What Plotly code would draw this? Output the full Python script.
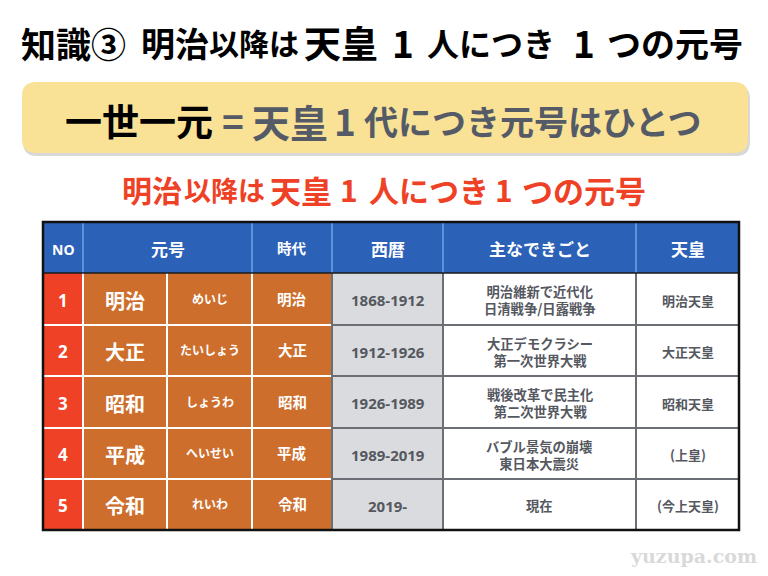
import plotly.graph_objects as go

# table contents
numbers = ["1", "2", "3", "4", "5"]
eras = ["明治", "大正", "昭和", "平成", "令和"]
readings = ["めいじ", "たいしょう", "しょうわ", "へいせい", "れいわ"]
years = ["1868-1912", "1912-1926", "1926-1989", "1989-2019", "2019-"]
events = ["明治維新で近代化<br>日清戦争/日露戦争", "大正デモクラシー<br>第一次世界大戦", "戦後改革で民主化<br>第二次世界大戦",
          "バブル景気の崩壊<br>東日本大震災", "現在"]
emperors = ["明治天皇", "大正天皇", "昭和天皇", "(上皇)", "(今上天皇)"]
headers = ["NO", "元号", "時代", "西暦", "主なできごと", "天皇"]

# slide text pieces: text, left edge, size
title_parts = [("知識③", 21, 35), ("明治", 141, 34), ("以降は", 209, 30), ("天皇", 304, 37),
               ("1", 392, 37), ("人につき", 427, 32), ("1", 573, 37), ("つの元号", 607, 34)]
banner_parts = [("一世一元", 65, 37, "#000000"), ("=", 222, 37, "#555b66"), ("天皇", 252, 38, "#555b66"),
                ("1", 334, 37, "#555b66"), ("代につき元号はひとつ", 364, 34, "#555b66")]
red_parts = [("明治", 122, 30), ("以降は", 184, 27), ("天皇", 270, 31),
             ("1", 340, 30), ("人につき", 369, 30), ("1", 495, 30), ("つの元号", 522, 31)]

# table grid in pixels
xs = [43, 83, 167, 252, 332, 443, 636, 739]
ys = [273, 325, 376, 428, 479, 530]
top = 222

BLUE = "#2b62b8"
ORANGE = "#cd6e2c"
RED = "#ee4125"
GREY = "#d9dbde"
TXT = "#55585f"
LINE = "#6c6e75"
FONT = "Noto Sans CJK JP"

fig = go.Figure()


def rect(x0, y0, x1, y1, fill, line=None, width=0):
    fig.add_shape(type="rect", x0=x0, y0=y0, x1=x1, y1=y1, fillcolor=fill,
                  line=dict(color=line, width=width) if line else dict(width=0), layer="below")


def text(x, y, s, size, color, anchor="center", bold=True, family=FONT):
    if bold:
        s = "<b>" + s.replace("<br>", "</b><br><b>") + "</b>"
    fig.add_annotation(x=x, y=y, text=s, showarrow=False, xanchor=anchor, yanchor="middle",
                       font=dict(family=family, size=size, color=color), align="center", borderpad=0, borderwidth=0)


def rounded(x0, y0, x1, y1, r, fill):
    path = (f"M {x0+r} {y0} L {x1-r} {y0} Q {x1} {y0} {x1} {y0+r} L {x1} {y1-r} Q {x1} {y1} {x1-r} {y1} "
            f"L {x0+r} {y1} Q {x0} {y1} {x0} {y1-r} L {x0} {y0+r} Q {x0} {y0} {x0+r} {y0} Z")
    fig.add_shape(type="path", path=path, fillcolor=fill, line=dict(width=0), layer="below")


# title
for s, x, size in title_parts:
    text(x, 42, s, size, "#000000", "left")

# banner with soft shadow
rounded(23, 85, 750, 156, 14, "#d8d8d8")
rounded(22, 82, 748, 153, 14, "#f9e196")
for s, x, size, color in banner_parts:
    text(x, 120, s, size, color, "left")

for s, x, size in red_parts:
    text(x, 189, s, size, RED, "left")

# header
rect(xs[0], top, xs[-1], ys[0], BLUE)
for x in [xs[1], xs[3], xs[4], xs[5], xs[6]]:
    fig.add_shape(type="line", x0=x, x1=x, y0=top, y1=ys[0], line=dict(color="#6da3ea", width=1.5))
header_cx = [(xs[0] + xs[1]) / 2, (xs[1] + xs[3]) / 2, (xs[3] + xs[4]) / 2, (xs[4] + xs[5]) / 2,
             (xs[5] + xs[6]) / 2, (xs[6] + xs[7]) / 2]
header_size = [14, 17, 14.5, 17, 17, 17]
header_y = [249, 248, 247, 248, 248, 248]
for h, cx, size, hy in zip(headers, header_cx, header_size, header_y):
    text(cx, hy, h, size, "white", family="Noto Sans CJK JP" if h != "NO" else "Open Sans")

# column fills
rect(xs[0], ys[0], xs[1], ys[-1], RED)
rect(xs[1], ys[0], xs[4], ys[-1], ORANGE)
rect(xs[4], ys[0], xs[5], ys[-1], GREY)
rect(xs[5], ys[0], xs[7], ys[-1], "white")

# grid lines
for y in ys[1:-1]:
    fig.add_shape(type="line", x0=xs[0], x1=xs[4], y0=y, y1=y, line=dict(color="white", width=2))
    fig.add_shape(type="line", x0=xs[4], x1=xs[7], y0=y, y1=y, line=dict(color=LINE, width=2))
for x in xs[1:4]:
    fig.add_shape(type="line", x0=x, x1=x, y0=ys[0], y1=ys[-1], line=dict(color="white", width=2))
for x in xs[4:7]:
    fig.add_shape(type="line", x0=x, x1=x, y0=ys[0], y1=ys[-1], line=dict(color=LINE, width=2))
fig.add_shape(type="line", x0=xs[0], x1=xs[-1], y0=ys[0], y1=ys[0], line=dict(color="#1a1a1a", width=1.5))
fig.add_shape(type="rect", x0=xs[0], x1=xs[-1], y0=top, y1=ys[-1], line=dict(color="#111111", width=2.5))

# rows
for i in range(5):
    cy = (ys[i] + ys[i + 1]) / 2
    text((xs[0] + xs[1]) / 2, cy + 1, numbers[i], 17, "white", family="Open Sans")
    text((xs[1] + xs[2]) / 2, cy + 1, eras[i], 20, "white")
    text((xs[2] + xs[3]) / 2, cy - 1, readings[i], 12, "white")
    text((xs[3] + xs[4]) / 2, cy - 1, eras[i], 14.5, "white")
    text((xs[4] + xs[5]) / 2, cy + 1, years[i], 15, TXT, family="Open Sans")
    text((xs[5] + xs[6]) / 2, cy + 1, events[i], 13.3, TXT)
    text((xs[6] + xs[7]) / 2, cy + 1, emperors[i], 13, TXT)

text(693, 556, "yuzupa.com", 19, "#d9d9d9", family="DejaVu Serif")

fig.update_xaxes(range=[0, 768], visible=False, fixedrange=True)
fig.update_yaxes(range=[576, 0], visible=False, fixedrange=True)
fig.update_layout(width=768, height=576, margin=dict(l=0, r=0, t=0, b=0), paper_bgcolor="white",
                  plot_bgcolor="white", showlegend=False)
fig.write_html("out.html", post_script="document.body.style.margin='0';", config=dict(displayModeBar=False))
